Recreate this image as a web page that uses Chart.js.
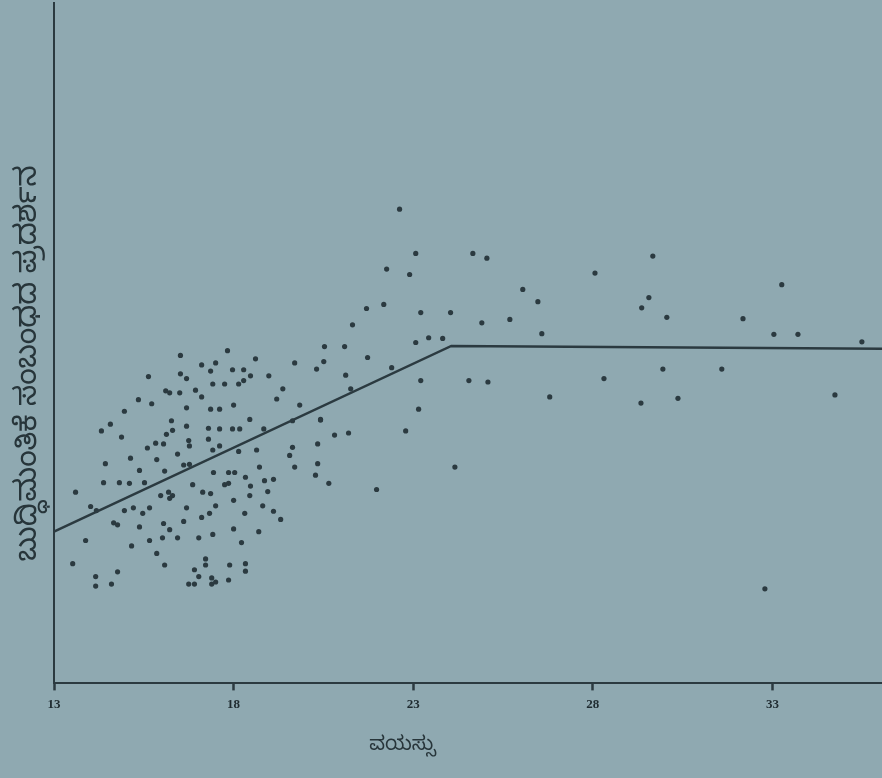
<!DOCTYPE html>
<html>
<head>
<meta charset="utf-8">
<script src="https://cdn.jsdelivr.net/npm/chart.js@4/dist/chart.umd.min.js"></script>
<style>
  html, body { margin: 0; padding: 0; background: #8fa9b1; }
  #wrap { width: 882px; height: 778px; }
</style>
</head>
<body>
<div id="wrap"><canvas id="c" width="882" height="778"></canvas></div>
<script>
// ---- data ----
const xTitle = "ವಯಸ್ಸು";
const yTitle = "ಬುದ್ಧಿಮಂತಿಕೆ ಸಂಬಂಧದ ಪ್ರದರ್ಶನ";
const xTickLabels = [13, 18, 23, 28, 33];

const ages = [
  15.63,16.11,16.22,16.50,15.35,15.72,14.96,16.27,14.57,14.32,16.30,16.13,14.88,15.83,16.05,15.60,16.44,15.13,15.86,16.52,16.52,
  17.83,18.61,17.11,17.50,19.70,17.36,17.97,18.28,16.69,18.47,18.98,17.42,17.75,18.14,18.28,16.94,19.37,17.11,19.20,18.00,19.84,
  16.69,17.36,17.61,18.45,16.69,17.30,17.61,17.97,18.17,18.84,16.75,17.30,16.77,17.61,17.42,19.64,18.14,18.64,19.56,
  14.43,15.38,16.08,14.38,14.82,15.10,15.52,13.60,15.97,16.19,16.30,16.22,14.02,14.18,14.96,15.21,15.47,15.66,14.66,14.77,
  15.38,16.05,16.22,13.88,15.66,16.02,16.44,15.16,15.86,13.52,16.08,14.77,14.16,14.60,14.16,
  16.61,16.77,17.44,17.86,18.03,18.72,19.70,18.33,16.86,17.75,17.86,18.47,18.86,19.11,17.14,17.36,18.45,18.95,18.00,16.69,
  17.50,18.81,19.11,18.31,17.33,17.11,16.61,19.31,18.00,18.70,17.42,17.03,18.22,17.22,17.22,17.89,18.33,18.33,16.91,17.03,
  17.39,16.75,16.91,17.39,17.50,17.86,
  19.64,20.42,20.81,21.20,22.79,20.34,20.34,20.28,20.65,21.98,24.16,
  22.62,23.07,24.66,25.05,22.26,22.90,21.70,22.18,23.21,24.04,24.91,21.31,20.53,21.09,23.07,23.43,23.82,20.51,20.31,21.73,
  22.40,21.12,23.21,24.55,25.08,21.26,23.15,20.42,
  29.67,28.06,33.26,26.05,26.47,29.56,29.36,25.69,30.06,32.18,26.58,33.04,33.71,35.49,29.95,31.59,28.31,26.80,29.34,30.37,
  34.74,32.79
];
const scores = [
  45.1,43.0,42.7,42.7,41.7,41.1,40.0,38.6,38.1,37.1,37.2,36.6,36.2,35.3,35.2,34.6,33.7,33.1,32.9,48.2,45.5,
  48.9,47.7,46.8,47.1,47.1,45.9,46.1,46.1,44.8,45.2,45.2,44.0,44.0,44.0,44.5,43.1,43.3,42.1,41.8,40.9,40.9,
  40.5,40.3,40.3,38.8,37.8,37.5,37.4,37.4,37.4,37.4,35.7,35.9,34.9,34.9,34.3,34.7,34.1,34.3,33.5,
  32.3,31.3,31.2,29.5,29.5,29.4,29.5,28.1,27.6,28.1,27.6,27.2,26.0,25.4,25.4,25.8,25.0,25.8,23.6,23.3,
  23.0,23.5,22.6,21.0,21.0,21.4,21.4,20.2,19.1,17.6,17.4,16.4,15.7,14.6,14.3,
  32.1,32.2,31.0,31.0,31.0,31.8,31.8,30.3,29.2,29.2,29.4,29.0,29.8,30.0,28.1,27.9,27.6,28.2,26.9,25.8,
  26.1,26.1,25.3,25.0,25.0,24.4,23.8,24.1,22.7,22.3,21.9,21.4,20.7,18.3,17.4,17.4,17.6,16.5,16.7,15.7,
  15.5,14.6,14.6,14.6,14.9,15.2,
  38.6,38.7,36.5,36.8,37.1,35.2,32.3,30.6,29.4,28.5,31.8,
  69.7,63.2,63.2,62.5,60.9,60.1,55.1,55.7,54.5,54.5,53.0,52.7,49.5,49.5,50.1,50.8,50.7,47.3,46.2,47.9,
  46.4,45.3,44.5,44.5,44.3,43.3,40.3,38.8,
  62.8,60.3,58.6,57.9,56.1,56.7,55.2,53.5,53.8,53.6,51.4,51.3,51.3,50.2,46.2,46.2,44.8,42.1,41.2,41.9,
  42.4,13.9
];
// fitted broken line
const fitAges = [13, 24.06, 36.05];
const fitScores = [22.3, 49.6, 49.2];

// ---- build chart ----
const scatterPts = ages.map((a, i) => ({ x: a, y: scores[i] }));
const linePts = fitAges.map((a, i) => ({ x: a, y: fitScores[i] }));

const ink = '#2b3a40';

const axisTitles = {
  id: 'axisTitles',
  afterDraw(chart) {
    const ctx = chart.ctx;
    const xs = chart.scales.x, ys = chart.scales.y;
    ctx.save();
    ctx.fillStyle = '#27353a';
    ctx.textAlign = 'center';
    ctx.textBaseline = 'middle';
    ctx.font = '20px "Noto Sans Kannada", "Lohit Kannada", "Noto Sans", sans-serif';
    ctx.fillText(xTitle, xs.getPixelForValue(22.7), xs.bottom + 30);
    ctx.font = '30px "Noto Sans Kannada", "Lohit Kannada", "Noto Sans", sans-serif';
    ctx.translate(ys.left - 21, (ys.top + ys.bottom) / 2 + 20);
    ctx.rotate(-Math.PI / 2);
    ctx.fillText(yTitle, 0, 0);
    ctx.restore();
  }
};

new Chart(document.getElementById('c'), {
  type: 'scatter',
  data: {
    datasets: [
      {
        type: 'line',
        data: linePts,
        borderColor: ink,
        borderWidth: 2.5,
        pointRadius: 0,
        tension: 0,
        fill: false,
        clip: false
      },
      {
        data: scatterPts,
        backgroundColor: ink,
        borderColor: ink,
        borderWidth: 0,
        pointRadius: 2.6
      }
    ]
  },
  options: {
    responsive: false,
    animation: false,
    layout: { autoPadding: false, padding: { left: 54, top: 3, right: 0, bottom: 60 } },
    plugins: { legend: { display: false }, tooltip: { enabled: false } },
    scales: {
      x: {
        type: 'linear',
        min: 13,
        max: 36.05,
        afterBuildTicks: (s) => { s.ticks = xTickLabels.map(v => ({ value: v })); },
        border: { display: true, color: ink, width: 2 },
        grid: { display: true, drawOnChartArea: false, drawTicks: true, tickLength: 7, tickWidth: 2.5, tickColor: ink },
        ticks: {
          color: '#1f2b30',
          font: { family: '"Liberation Serif", serif', size: 13, weight: 'bold' },
          padding: 6,
          maxRotation: 0,
          autoSkip: false
        }
      },
      y: {
        type: 'linear',
        min: 0,
        max: 100,
        border: { display: true, color: ink, width: 2 },
        grid: { display: false, drawTicks: false },
        ticks: { display: false }
      }
    }
  },
  plugins: [axisTitles]
});
</script>
</body>
</html>
